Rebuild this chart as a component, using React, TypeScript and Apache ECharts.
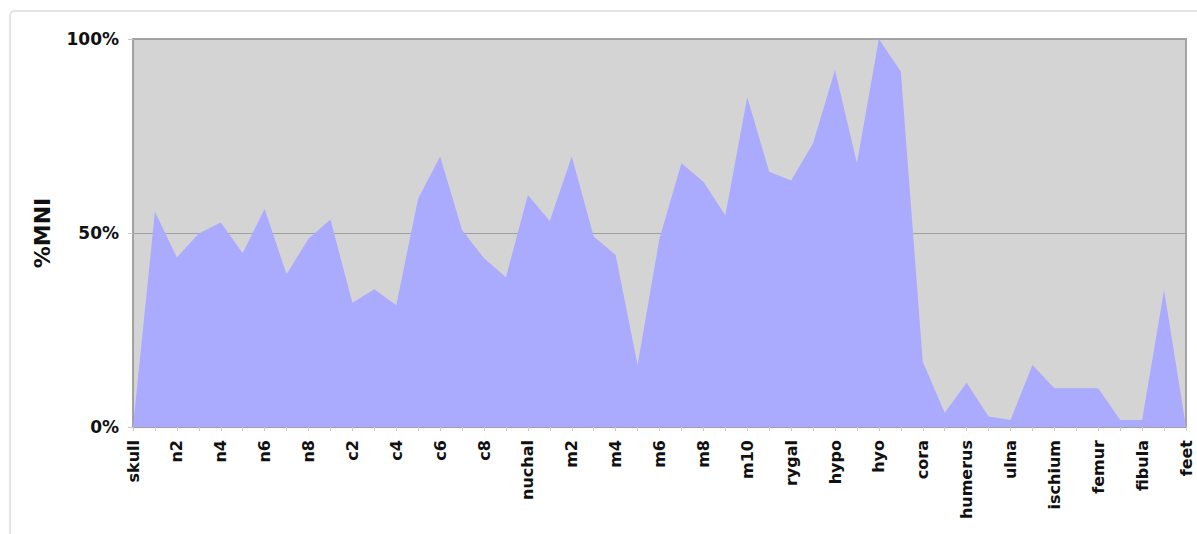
import React, { useEffect, useRef } from "react";
import * as echarts from "echarts";

const categories: string[] = [
  "skull",
  "n1", "n2", "n3", "n4", "n5", "n6", "n7", "n8",
  "c1", "c2", "c3", "c4", "c5", "c6", "c7", "c8",
  "prn", "nuchal",
  "m1", "m2", "m3", "m4", "m5", "m6", "m7", "m8", "m9", "m10", "m11",
  "rygal", "sprygal", "hypo", "xiphi", "hyo", "epi",
  "cora", "scapula", "humerus", "radius", "ulna",
  "ilium", "ischium", "pubis", "femur", "tibia", "fibula", "hands", "feet",
];

const mniPercent: number[] = [
  0,
  55.5, 43.7, 49.9, 52.7, 44.8, 56.2, 39.4, 48.5,
  53.5, 32.0, 35.5, 31.4, 58.9, 69.7, 50.8, 43.5,
  38.6, 59.8,
  53.1, 69.7, 49.1, 44.3, 16.0, 48.6, 68.0, 63.2, 54.6, 85.0, 65.8,
  63.5, 73.1, 92.0, 68.0, 100, 91.6,
  16.8, 3.7, 11.4, 2.7, 1.8,
  16.0, 10.0, 10.0, 10.0, 1.8, 1.8, 35.3, 0,
];

const yTicks: number[] = [0, 50, 100];

const FONT = "DejaVu Sans";

export default function App() {
  const ref = useRef<HTMLDivElement>(null);

  useEffect(() => {
    if (!ref.current) return;
    const chart = echarts.init(ref.current, null, { renderer: "svg" });
    chart.setOption({
      animation: false,
      backgroundColor: "#ffffff",
      graphic: [
        {
          type: "rect",
          shape: { x: 10, y: 11, width: 1200, height: 540, r: 4 },
          style: { fill: "none", stroke: "#e4e4e4", lineWidth: 2 },
          silent: true,
        },
      ],
      grid: {
        left: 133,
        right: 11,
        top: 39,
        bottom: 107,
        show: true,
        backgroundColor: "#d4d4d4",
        borderColor: "#a4a4a4",
        borderWidth: 2,
      },
      xAxis: {
        type: "category",
        data: categories,
        boundaryGap: false,
        axisLine: { show: true, lineStyle: { color: "#a0a0a0", width: 1 } },
        axisTick: { show: true, interval: 0, length: 4, lineStyle: { color: "#c8c8c8" } },
        axisLabel: {
          interval: 1,
          rotate: 90,
          margin: 13,
          fontFamily: FONT,
          fontWeight: "bold",
          fontSize: 16,
          color: "#111111",
        },
        splitLine: { show: false },
      },
      yAxis: {
        type: "value",
        min: yTicks[0],
        max: yTicks[yTicks.length - 1],
        interval: 50,
        name: "%MNI",
        nameLocation: "middle",
        nameGap: 80,
        nameRotate: 90,
        nameTextStyle: {
          fontFamily: FONT,
          fontWeight: "bold",
          fontSize: 22,
          color: "#111111",
        },
        axisLine: { show: true, lineStyle: { color: "#a0a0a0", width: 1 } },
        axisTick: { show: true, length: 5, lineStyle: { color: "#c8c8c8" } },
        axisLabel: {
          formatter: "{value}%",
          margin: 14,
          fontFamily: FONT,
          fontWeight: "bold",
          fontSize: 17,
          color: "#111111",
        },
        splitLine: { show: true, lineStyle: { color: "#a0a0a0", width: 1 } },
      },
      series: [
        {
          type: "line",
          data: mniPercent,
          symbol: "none",
          lineStyle: { width: 0 },
          areaStyle: { color: "#aaaaff", opacity: 1 },
        },
      ],
    });
    return () => chart.dispose();
  }, []);

  return (
    <div
      ref={ref}
      style={{ position: "fixed", left: 0, top: 0, width: 1197, height: 534 }}
    />
  );
}
